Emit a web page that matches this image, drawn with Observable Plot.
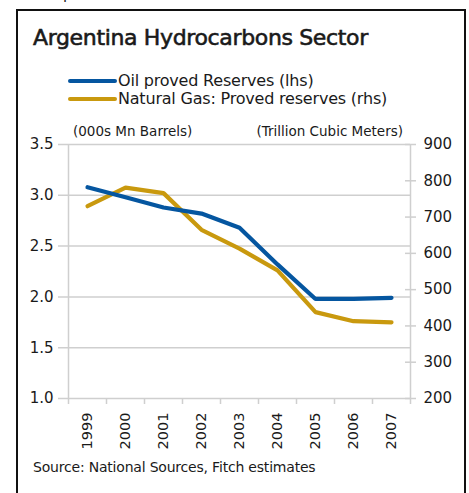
<!DOCTYPE html>
<html>
<head>
<meta charset="utf-8">
<script src="https://cdn.jsdelivr.net/npm/d3@7"></script>
<script src="https://cdn.jsdelivr.net/npm/@observablehq/plot@0.6"></script>
<style>
  html, body { margin: 0; padding: 0; background: #fff; }
  #wrap { position: relative; width: 469px; height: 493px; overflow: hidden; font-family: "DejaVu Sans", sans-serif; color: #1a1a1a; }
  #frame { position: absolute; left: 16px; top: 9px; width: 446px; height: 500px; border: 2px solid #111; }
  .abs { position: absolute; white-space: nowrap; }
  #title { left: 33px; top: 25px; font-size: 22px; font-weight: normal; -webkit-text-stroke: 0.6px #1a1a1a; letter-spacing: -0.35px; }
  .leg { left: 68px; font-size: 16px; letter-spacing: -0.2px; }
  .sw { display: inline-block; width: 49px; height: 4px; border-radius: 2px; vertical-align: middle; margin-right: 1px; position: relative; top: -1px; }
  .unit { top: 123px; font-size: 13.5px; letter-spacing: 0px; }
  #source { left: 33px; top: 459px; font-size: 14px; letter-spacing: -0.2px; }
  #chart { position: absolute; left: 0; top: 120px; }
</style>
</head>
<body>
<div id="wrap">
  <div class="abs" style="left:63px; top:-15px; font-size:15px;">p</div>
  <div id="frame"></div>
  <div id="title" class="abs">Argentina Hydrocarbons Sector</div>
  <div class="abs leg" style="top:71px;"><span class="sw" style="background:#0556a0"></span>Oil proved Reserves (lhs)</div>
  <div class="abs leg" style="top:89px;"><span class="sw" style="background:#c9990e"></span>Natural Gas: Proved reserves (rhs)</div>
  <div class="abs unit" style="left:73px;">(000s Mn Barrels)</div>
  <div class="abs unit" style="right:66px;">(Trillion Cubic Meters)</div>
  <div id="chart"></div>
  <div id="source" class="abs">Source: National Sources, Fitch estimates</div>
</div>
<script>
const years = [1999, 2000, 2001, 2002, 2003, 2004, 2005, 2006, 2007];
const oilReserves = [3.08, 2.98, 2.88, 2.82, 2.68, 2.32, 1.98, 1.98, 1.99];
const gasReserves = [730, 781, 766, 665, 613, 553, 438, 413, 410];
const leftTicks = [1.0, 1.5, 2.0, 2.5, 3.0, 3.5];
const rightTicks = [200, 300, 400, 500, 600, 700, 800, 900];

const leftDomain = [1.0, 3.5];
const rightDomain = [200, 900];
// map right-axis values into left-axis units
const toLeft = v => leftDomain[0] + (v - rightDomain[0]) / (rightDomain[1] - rightDomain[0]) * (leftDomain[1] - leftDomain[0]);

const oil = years.map((y, i) => ({year: y, v: oilReserves[i]}));
const gas = years.map((y, i) => ({year: y, v: toLeft(gasReserves[i])}));
const boundaries = d3.range(years[0] - 0.5, years[years.length - 1] + 1, 1);

const grid = "#cfcfcf";
const plot = Plot.plot({
  width: 469,
  height: 340,
  marginTop: 24,
  marginBottom: 62,
  marginLeft: 68,
  marginRight: 59,
  style: {fontFamily: "DejaVu Sans, sans-serif", fontSize: "14px", color: "#1a1a1a", background: "transparent", overflow: "visible"},
  x: {domain: [years[0] - 0.5, years[years.length - 1] + 0.5]},
  y: {domain: leftDomain},
  marks: [
    Plot.ruleY(leftTicks, {stroke: grid, strokeWidth: 1.5, x1: boundaries[0], x2: boundaries[boundaries.length - 1], insetLeft: -10}),
    Plot.ruleX([boundaries[0], boundaries[boundaries.length - 1]], {stroke: grid, strokeWidth: 1.5}),
    Plot.axisY(leftTicks, {anchor: "left", tickSize: 0, tickPadding: 15, tickFormat: d3.format(".1f"), label: null, fill: "#1a1a1a", fontSize: 15}),
    Plot.axisY(rightTicks.map(toLeft), {anchor: "right", tickSize: 11, dx: -6, tickPadding: 8, stroke: grid, strokeWidth: 1.5,
      tickFormat: (d, i) => rightTicks[i], label: null, fill: "#1a1a1a", fontSize: 15}),
    Plot.axisX(boundaries, {anchor: "bottom", tickSize: 6, stroke: grid, strokeWidth: 1.5, tickFormat: () => "", label: null}),
    Plot.axisX(years, {anchor: "bottom", tickSize: 0, tickPadding: 14, tickRotate: -90, tickFormat: d => String(d), label: null, fontSize: 14.5}),
    Plot.line(gas, {x: "year", y: "v", stroke: "#c9990e", strokeWidth: 4.2, strokeLinejoin: "miter", strokeLinecap: "round"}),
    Plot.line(oil, {x: "year", y: "v", stroke: "#0556a0", strokeWidth: 4.2, strokeLinejoin: "miter", strokeLinecap: "round"})
  ]
});
document.getElementById("chart").appendChild(plot);
</script>
</body>
</html>
